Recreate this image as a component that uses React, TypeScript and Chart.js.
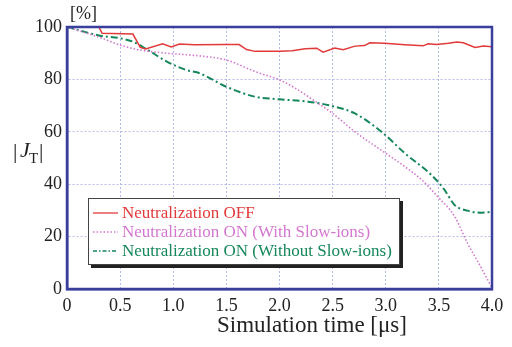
import React, { useEffect, useRef } from "react";
import { Chart, registerables } from "chart.js";

Chart.register(...registerables);

const offX = [0, 0.3, 0.33, 0.62, 0.69, 0.74, 0.9, 0.98, 1.06, 1.2, 1.5, 1.62, 1.69, 1.77, 2.0, 2.12, 2.24, 2.35, 2.41, 2.52, 2.6, 2.71, 2.8, 2.85, 2.99, 3.18, 3.35, 3.4, 3.48, 3.59, 3.67, 3.73, 3.84, 3.92, 4.0];
const offY = [100, 100, 97.6, 97.3, 92.2, 91.6, 93.6, 92.4, 93.5, 93.2, 93.3, 93.3, 91.4, 90.7, 90.7, 90.9, 91.7, 91.9, 90.4, 92.0, 91.3, 92.7, 92.9, 94.0, 93.8, 93.2, 92.8, 93.6, 93.3, 93.8, 94.3, 94.0, 92.2, 92.7, 92.5];

const withX = [0, 0.31, 0.5, 0.69, 0.94, 1.31, 1.5, 1.77, 2.0, 2.15, 2.34, 2.5, 2.71, 3.0, 3.18, 3.34, 3.49, 3.65, 3.77, 3.88, 3.96, 4.0];
const withY = [100, 96, 93.1, 91.2, 90, 88.7, 87.4, 83, 79.8, 76.6, 71.5, 67, 60, 51.8, 46.7, 41.6, 35.2, 27.6, 17.4, 9.5, 3.4, 0.5];

const withoutX = [0, 0.31, 0.5, 0.62, 0.75, 0.94, 1.12, 1.25, 1.5, 1.77, 2.0, 2.27, 2.5, 2.71, 2.96, 3.18, 3.43, 3.55, 3.65, 3.77, 3.9, 4.0];
const withoutY = [100, 96.7, 95.7, 94.4, 91.5, 86.8, 83.6, 82.3, 77.2, 73.4, 72.4, 71.5, 69.8, 67, 60, 51.8, 43.5, 38, 32, 29.9, 29.1, 29.5];

const seriesLabels = [
  "Neutralization OFF",
  "Neutralization ON (With Slow-ions)",
  "Neutralization ON (Without Slow-ions)",
];
const xTicks = [0, 0.5, 1, 1.5, 2, 2.5, 3, 3.5, 4];
const yTicks = [0, 20, 40, 60, 80, 100];
const xTitle = "Simulation time [\u03bcs]";
const yUnit = "[%]";

const RED = "#e23a3a";
const PURPLE = "#d477d0";
const GREEN = "#15875a";
const BLUE = "#3a3f9c";
const SERIF = "'Liberation Serif', 'DejaVu Serif', serif";

const zip = (xs: number[], ys: number[]) => xs.map((x, i) => ({ x, y: ys[i] }));

export default function App() {
  const ref = useRef<HTMLCanvasElement | null>(null);
  useEffect(() => {
    if (!ref.current) return;
    const dashes = [[], [1.5, 2], [7, 3, 2, 3]];
    const colors = [RED, PURPLE, GREEN];
    const decor = {
      id: "decor",
      afterDraw(chart: any) {
        const { ctx, chartArea: a } = chart;
        ctx.save();
        ctx.strokeStyle = BLUE;
        ctx.lineWidth = 2.5;
        ctx.strokeRect(a.left, a.top, a.right - a.left, a.bottom - a.top);
        // legend box
        const bx = 88, by = 198, bw = 312, bh = 67;
        ctx.fillStyle = "#222";
        ctx.fillRect(bx + 3, by + 3, bw, bh);
        ctx.fillStyle = "#fff";
        ctx.fillRect(bx, by, bw, bh);
        ctx.strokeStyle = "#444";
        ctx.lineWidth = 1;
        ctx.strokeRect(bx + 0.5, by + 0.5, bw - 1, bh - 1);
        ctx.font = `17px ${SERIF}`;
        ctx.textBaseline = "middle";
        ctx.textAlign = "left";
        seriesLabels.forEach((lab, i) => {
          const yy = by + 15 + i * 19;
          ctx.strokeStyle = colors[i];
          ctx.lineWidth = i === 2 ? 1.5 : 1.3;
          ctx.setLineDash(i === 2 ? [4, 2, 1.5, 2] : dashes[i]);
          ctx.beginPath();
          ctx.moveTo(93, yy);
          ctx.lineTo(118, yy);
          ctx.stroke();
          ctx.setLineDash([]);
          ctx.fillStyle = colors[i];
          ctx.fillText(lab, 122, yy + 1);
        });
        // axis titles
        ctx.fillStyle = "#222";
        ctx.font = `23px ${SERIF}`;
        ctx.textAlign = "center";
        ctx.fillText(xTitle, 312, 326);
        ctx.font = `18px ${SERIF}`;
        ctx.textAlign = "left";
        ctx.fillText(yUnit, 70, 14);
        ctx.font = `22px ${SERIF}`;
        ctx.fillText("|", 13, 152);
        ctx.font = `italic 22px ${SERIF}`;
        ctx.fillText("J", 20, 151);
        ctx.font = `15px ${SERIF}`;
        ctx.fillText("T", 29, 159);
        ctx.font = `22px ${SERIF}`;
        ctx.fillText("|", 39, 152);
        ctx.restore();
      },
    };
    const chart = new Chart(ref.current, {
      type: "line",
      data: {
        datasets: [
          { label: seriesLabels[0], data: zip(offX, offY), borderColor: RED, borderWidth: 1.5, pointRadius: 0, tension: 0 },
          { label: seriesLabels[1], data: zip(withX, withY), borderColor: PURPLE, borderWidth: 1.6, borderDash: [1.5, 2], pointRadius: 0, cubicInterpolationMode: "monotone" },
          { label: seriesLabels[2], data: zip(withoutX, withoutY), borderColor: GREEN, borderWidth: 2, borderDash: [7, 3, 2, 3], pointRadius: 0, cubicInterpolationMode: "monotone" },
        ],
      },
      options: {
        responsive: false,
        animation: false,
        layout: { padding: { left: 0, right: 20, top: 27, bottom: 0 } },
        plugins: { legend: { display: false }, tooltip: { enabled: false } },
        scales: {
          x: {
            type: "linear",
            min: 0,
            max: 4,
            afterBuildTicks: (s: any) => { s.ticks = xTicks.map((v) => ({ value: v })); },
            afterFit: (s: any) => { s.height = 347 - 289; },
            ticks: {
              color: "#222",
              font: { family: SERIF, size: 18 },
              padding: 6,
              maxRotation: 0,
              callback: (v: any) => (v === 0 ? "0" : Number(v).toFixed(1)),
            },
            grid: { color: "#b4bbea", lineWidth: 1, drawTicks: false },
            border: { color: BLUE, width: 2.5, dash: [2, 2] },
          },
          y: {
            min: 0,
            max: 100,
            afterBuildTicks: (s: any) => { s.ticks = yTicks.map((v) => ({ value: v })); },
            afterFit: (s: any) => { s.width = 67; },
            ticks: { color: "#222", font: { family: SERIF, size: 18 }, padding: 5 },
            grid: { color: "#b4bbea", lineWidth: 1, drawTicks: false },
            border: { color: BLUE, width: 2.5, dash: [2, 2] },
          },
        },
      },
      plugins: [decor],
    });
    return () => chart.destroy();
  }, []);
  return (
    <div style={{ position: "fixed", left: 0, top: 0, width: 512, height: 347, background: "#fff" }}>
      <canvas ref={ref} width={512} height={347} style={{ display: "block" }} />
    </div>
  );
}
